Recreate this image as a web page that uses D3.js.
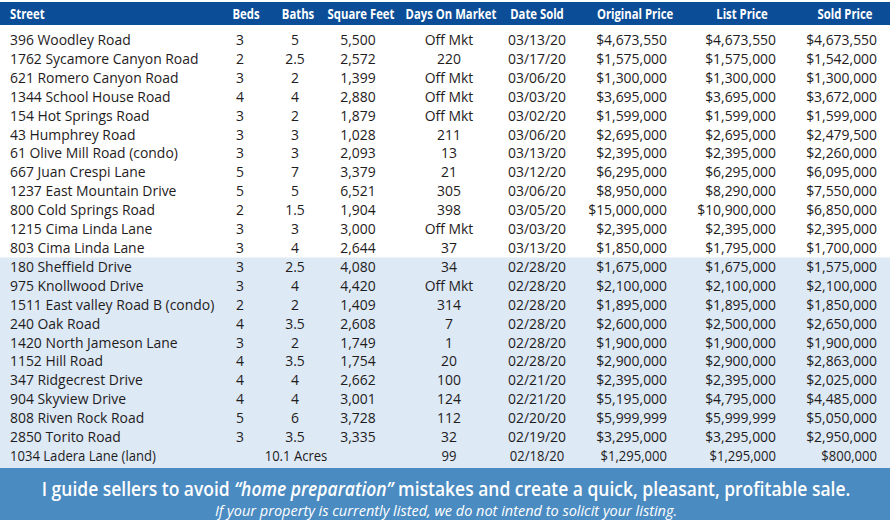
<!DOCTYPE html>
<html><head><meta charset="utf-8">
<script src="https://cdn.jsdelivr.net/npm/d3@7"></script>
<style>html,body{margin:0;padding:0;background:#fff;}svg{display:block;}</style>
</head><body>
<svg id="c" width="892" height="525"></svg>
<script>
const headers = ["Street","Beds","Baths","Square Feet","Days On Market","Date Sold","Original Price","List Price","Sold Price"];
const streets = ["396 Woodley Road","1762 Sycamore Canyon Road","621 Romero Canyon Road","1344 School House Road","154 Hot Springs Road","43 Humphrey Road","61 Olive Mill Road (condo)","667 Juan Crespi Lane","1237 East Mountain Drive","800 Cold Springs Road","1215 Cima Linda Lane","803 Cima Linda Lane","180 Sheffield Drive","975 Knollwood Drive","1511 East valley Road B (condo)","240 Oak Road","1420 North Jameson Lane","1152 Hill Road","347 Ridgecrest Drive","904 Skyview Drive","808 Riven Rock Road","2850 Torito Road","1034 Ladera Lane (land)"];
const beds = ["3","2","3","4","3","3","3","5","5","2","3","3","3","3","2","4","3","4","4","4","5","3",""];
const baths = ["5","2.5","2","4","2","3","3","7","5","1.5","3","4","2.5","4","2","3.5","2","3.5","4","4","6","3.5",""];
const sqft = ["5,500","2,572","1,399","2,880","1,879","1,028","2,093","3,379","6,521","1,904","3,000","2,644","4,080","4,420","1,409","2,608","1,749","1,754","2,662","3,001","3,728","3,335",""];
const acresNote = "10.1 Acres";
const daysOnMarket = ["Off Mkt","220","Off Mkt","Off Mkt","Off Mkt","211","13","21","305","398","Off Mkt","37","34","Off Mkt","314","7","1","20","100","124","112","32","99"];
const dateSold = ["03/13/20","03/17/20","03/06/20","03/03/20","03/02/20","03/06/20","03/13/20","03/12/20","03/06/20","03/05/20","03/03/20","03/13/20","02/28/20","02/28/20","02/28/20","02/28/20","02/28/20","02/28/20","02/21/20","02/21/20","02/20/20","02/19/20","02/18/20"];
const originalPrice = ["$4,673,550","$1,575,000","$1,300,000","$3,695,000","$1,599,000","$2,695,000","$2,395,000","$6,295,000","$8,950,000","$15,000,000","$2,395,000","$1,850,000","$1,675,000","$2,100,000","$1,895,000","$2,600,000","$1,900,000","$2,900,000","$2,395,000","$5,195,000","$5,999,999","$3,295,000","$1,295,000"];
const listPrice = ["$4,673,550","$1,575,000","$1,300,000","$3,695,000","$1,599,000","$2,695,000","$2,395,000","$6,295,000","$8,290,000","$10,900,000","$2,395,000","$1,795,000","$1,675,000","$2,100,000","$1,895,000","$2,500,000","$1,900,000","$2,900,000","$2,395,000","$4,795,000","$5,999,999","$3,295,000","$1,295,000"];
const soldPrice = ["$4,673,550","$1,542,000","$1,300,000","$3,672,000","$1,599,000","$2,479,500","$2,260,000","$6,095,000","$7,550,000","$6,850,000","$2,395,000","$1,700,000","$1,575,000","$2,100,000","$1,850,000","$2,650,000","$1,900,000","$2,863,000","$2,025,000","$4,485,000","$5,050,000","$2,950,000","$800,000"];
const footerLine2 = "If your property is currently listed, we do not intend to solicit your listing.";

const svg = d3.select("#c");
const darkBlue = "#0b4e97", lightBlue = "#dde9f5", footBlue = "#4a8bc2", ink = "#1f1c1d";
const FONT = "'Open Sans', 'Noto Sans', sans-serif";

const rows = d3.range(streets.length);
const y = d3.scaleBand().domain(rows).range([30.5, 465.5]).padding(0);

// backgrounds
svg.append("rect").attr("x",0).attr("y",2).attr("width",890).attr("height",23).attr("fill",darkBlue);
svg.append("rect").attr("x",0).attr("y",y(12)).attr("width",890).attr("height",468 - y(12)).attr("fill",lightBlue);
svg.append("rect").attr("x",0).attr("y",468).attr("width",890).attr("height",52).attr("fill",footBlue);

const cols = [
  {data: streets, x: 10, anchor: "start"},
  {data: beds, x: 240, anchor: "middle"},
  {data: baths, x: 295, anchor: "middle"},
  {data: sqft, x: 358, anchor: "middle"},
  {data: daysOnMarket, x: 449, anchor: "middle"},
  {data: dateSold, x: 537, anchor: "middle"},
  {data: originalPrice, x: 667, anchor: "end"},
  {data: listPrice, x: 776, anchor: "end"},
  {data: soldPrice, x: 877, anchor: "end"}
];
const headerPos = [
  {x: 10, anchor: "start"},{x: 246, anchor: "middle"},{x: 298, anchor: "middle"},{x: 361, anchor: "middle"},
  {x: 451, anchor: "middle"},{x: 537, anchor: "middle"},{x: 635, anchor: "middle"},{x: 742, anchor: "middle"},{x: 845, anchor: "middle"}
];

const hx = 0.78, bx = 0.96;
svg.append("g").selectAll("text").data(headers).join("text")
  .attr("transform",(d,i)=>`translate(${headerPos[i].x},19) scale(${hx},1)`)
  .attr("text-anchor",(d,i)=>headerPos[i].anchor)
  .attr("font-family",FONT).attr("font-weight",700).attr("font-size",14.5)
  .attr("fill","#fff").text(d=>d);

const body = svg.append("g");
cols.forEach(c=>{
  body.append("g").selectAll("text").data(rows).join("text")
    .attr("transform",i=>`translate(${c.x},${y(i)+y.bandwidth()/2+5}) scale(${i===22?bx*0.94:bx},1)`)
    .attr("text-anchor",c.anchor)
    .attr("font-family",FONT).attr("font-size",14.5)
    .attr("fill",ink).text(i=>c.data[i]);
});
body.append("text")
  .attr("transform",`translate(296,${y(22)+y.bandwidth()/2+5}) scale(${bx*0.94},1)`)
  .attr("text-anchor","middle").attr("font-family",FONT).attr("font-size",14.5)
  .attr("fill",ink).text(acresNote);

// footer
const f1 = svg.append("text")
  .attr("transform","translate(446,496) scale(0.92,1)")
  .attr("text-anchor","middle").attr("font-family",FONT).attr("font-weight",600).attr("font-size",19)
  .attr("fill","#fff");
f1.append("tspan").text("I guide sellers to avoid ");
f1.append("tspan").attr("font-style","italic").text("\u201Chome preparation\u201D");
f1.append("tspan").text(" mistakes and create a quick, pleasant, profitable sale.");
svg.append("text")
  .attr("transform","translate(446,516) scale(1.0,1)")
  .attr("text-anchor","middle").attr("font-family",FONT).attr("font-style","italic").attr("font-size",14.5)
  .attr("fill","#fff").text(footerLine2);
</script>
</body></html>
